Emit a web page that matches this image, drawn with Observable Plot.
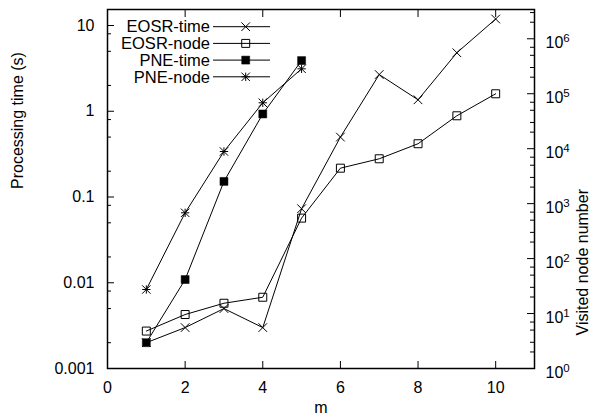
<!DOCTYPE html>
<html><head><meta charset="utf-8">
<script src="https://cdn.jsdelivr.net/npm/d3@7"></script>
<script src="https://cdn.jsdelivr.net/npm/@observablehq/plot@0.6"></script>
<style>
body{margin:0;background:#fff}
svg{font-family:"Liberation Sans",Arial,Helvetica,sans-serif}
</style>
</head><body><div id="chart"></div>
<script>
// ---- data ----
const mEOSR = [1, 2, 3, 4, 5, 6, 7, 8, 9, 10];
const mPNE = [1, 2, 3, 4, 5];
const eosrTime = [0.002, 0.003, 0.005, 0.003, 0.073, 0.5, 2.68, 1.36, 4.81, 11.9];   // s (left axis)
const eosrNode = [4.8, 9.6, 15.4, 19.8, 545, 4420, 6550, 12300, 39700, 99800];      // nodes (right axis)
const pneTime = [0.002, 0.0109, 0.152, 0.93, 3.9];                                  // s (left axis)
const pneNode = [27.4, 681, 8890, 68400, 284000];                                    // nodes (right axis)
const seriesNames = ["EOSR-time", "EOSR-node", "PNE-time", "PNE-node"];
const xTicks = [0, 2, 4, 6, 8, 10];
const leftTicks = [0.001, 0.01, 0.1, 1, 10];
const leftMinorFactors = [2, 5, 8];
const rightTickExp = [0, 1, 2, 3, 4, 5, 6];
const rightMinorFactors = [2, 3, 5, 7];
const xDomain = [0, 11];
const leftDomain = [0.001, 15.37];
const rightDomain = [1, 3.41e6];

// ---- layout ----
const W = 590, H = 418;
const mL = 107, mR = 56, mT = 9, mB = 50;
const FS = 16;
const innerW = W - mL - mR;
const TMAJ = 7, TMIN = 4;

// map a right-axis value onto the left (log) scale
const lL0 = Math.log10(leftDomain[0]), lL1 = Math.log10(leftDomain[1]);
const lR0 = Math.log10(rightDomain[0]), lR1 = Math.log10(rightDomain[1]);
const toLeft = v => Math.pow(10, lL0 + (Math.log10(v) - lR0) * (lL1 - lL0) / (lR1 - lR0));

const dEOSRt = mEOSR.map((x, i) => ({x, y: eosrTime[i]}));
const dEOSRn = mEOSR.map((x, i) => ({x, y: toLeft(eosrNode[i])}));
const dPNEt = mPNE.map((x, i) => ({x, y: pneTime[i]}));
const dPNEn = mPNE.map((x, i) => ({x, y: toLeft(pneNode[i])}));

const leftMinor = [];
for (const t of leftTicks) for (const f of leftMinorFactors) { const v = t * f; if (v <= leftDomain[1]) leftMinor.push(v); }
const rightMajor = rightTickExp.map(k => ({y: toLeft(10 ** k), k}));
const rightMinor = [];
for (const k of rightTickExp) for (const f of rightMinorFactors) { const v = f * 10 ** k; if (v <= rightDomain[1]) rightMinor.push(toLeft(v)); }

const blank = () => "";
const lineOpts = {x: "x", y: "y", stroke: "black", strokeWidth: 1};
const tickOpts = {stroke: "black", strokeWidth: 1};

const plot = Plot.plot({
  width: W, height: H,
  marginLeft: mL, marginRight: mR, marginTop: mT, marginBottom: mB,
  style: {fontFamily: '"Liberation Sans",Arial,Helvetica,sans-serif', background: "white", color: "black"},
  x: {domain: xDomain, label: null},
  y: {type: "log", domain: leftDomain, label: null, axis: null},
  marks: [
    // x ticks (inward, mirrored on top) and labels
    Plot.axisX({ticks: xTicks, anchor: "bottom", tickSize: TMAJ, dy: -TMAJ, tickFormat: blank, label: null}),
    Plot.axisX({ticks: xTicks, anchor: "top", tickSize: TMAJ, dy: TMAJ, tickFormat: blank, label: null}),
    Plot.axisX({ticks: xTicks, anchor: "bottom", tickSize: 0, tickPadding: 13, fontSize: FS, label: null}),
    // left y ticks (inward) and labels
    Plot.ruleY(leftTicks, {y: d => d, insetRight: innerW - TMAJ, ...tickOpts}),
    Plot.ruleY(leftMinor, {y: d => d, insetRight: innerW - TMIN, ...tickOpts}),
    Plot.text(leftTicks, {y: d => d, text: d => String(d), frameAnchor: "left", dx: -13, textAnchor: "end", fontSize: FS}),
    // right y ticks (inward) and labels
    Plot.ruleY(rightMajor, {y: "y", insetLeft: innerW - TMAJ, ...tickOpts}),
    Plot.ruleY(rightMinor, {y: d => d, insetLeft: innerW - TMIN, ...tickOpts}),
    Plot.text(rightMajor, {y: "y", text: d => "10^" + d.k, frameAnchor: "right", dx: 11, dy: 4, textAnchor: "start", fontSize: FS}),
    // axis titles
    Plot.text(["Processing time (s)"], {text: d => d, frameAnchor: "left", dx: -90, rotate: -90, fontSize: FS}),
    Plot.text(["Visited node number"], {text: d => d, frameAnchor: "right", dx: 48, rotate: -90, fontSize: FS}),
    Plot.text(["m"], {text: d => d, frameAnchor: "bottom", dy: 44, fontSize: FS}),
    // series
    Plot.line(dEOSRt, lineOpts),
    Plot.line(dEOSRn, lineOpts),
    Plot.line(dPNEt, lineOpts),
    Plot.line(dPNEn, lineOpts),
    Plot.dot(dEOSRt, {x: "x", y: "y", symbol: "times", r: 4, stroke: "black", strokeWidth: 1}),
    Plot.dot(dEOSRn, {x: "x", y: "y", symbol: "square", r: 4.5, stroke: "black", fill: "none", strokeWidth: 1}),
    Plot.dot(dPNEt, {x: "x", y: "y", symbol: "square", r: 4.5, fill: "black", stroke: "black", strokeWidth: 0.5}),
    Plot.dot(dPNEn, {x: "x", y: "y", symbol: "plus", r: 2.8, stroke: "black", strokeWidth: 1}),
    Plot.dot(dPNEn, {x: "x", y: "y", symbol: "times", r: 3.9, stroke: "black", strokeWidth: 1}),
    Plot.frame({stroke: "black", strokeWidth: 1.5})
  ]
});

// superscripts for the right axis labels
d3.select(plot).selectAll("text").each(function () {
  const t = this.textContent;
  const mm = /^10\^(\d+)$/.exec(t);
  if (mm) {
    const sel = d3.select(this);
    sel.text("10");
    sel.append("tspan").attr("dy", "-0.5em").attr("font-size", "0.72em").text(mm[1]);
  }
});

// legend (top-left inside the frame)
const svg = d3.select(plot);
const lg = svg.append("g").attr("font-size", 16.5).attr("fill", "black");
const legendSymbols = [
  [{type: d3.symbolTimes, r: 4, fill: "none"}],
  [{type: d3.symbolSquare, r: 4.5, fill: "none"}],
  [{type: d3.symbolSquare, r: 4.5, fill: "black"}],
  [{type: d3.symbolPlus, r: 2.8, fill: "none"}, {type: d3.symbolTimes, r: 3.9, fill: "none"}]
];
seriesNames.forEach((name, i) => {
  const y = mT + 17.7 + i * 16.7;
  const textRight = mL + 103, l0 = mL + 106, l1 = mL + 163, cx = mL + 138.7;
  lg.append("text").attr("x", textRight).attr("y", y).attr("dy", "0.35em")
    .attr("text-anchor", "end").text(name);
  lg.append("line").attr("x1", l0).attr("x2", l1).attr("y1", y).attr("y2", y)
    .attr("stroke", "black").attr("stroke-width", 1);
  for (const s of legendSymbols[i]) {
    lg.append("path").attr("transform", `translate(${cx},${y})`)
      .attr("d", d3.symbol(s.type, Math.PI * s.r * s.r)())
      .attr("fill", s.fill).attr("stroke", "black").attr("stroke-width", s.fill === "black" ? 0.5 : 1);
  }
});

document.getElementById("chart").appendChild(plot);
</script>
</body></html>
